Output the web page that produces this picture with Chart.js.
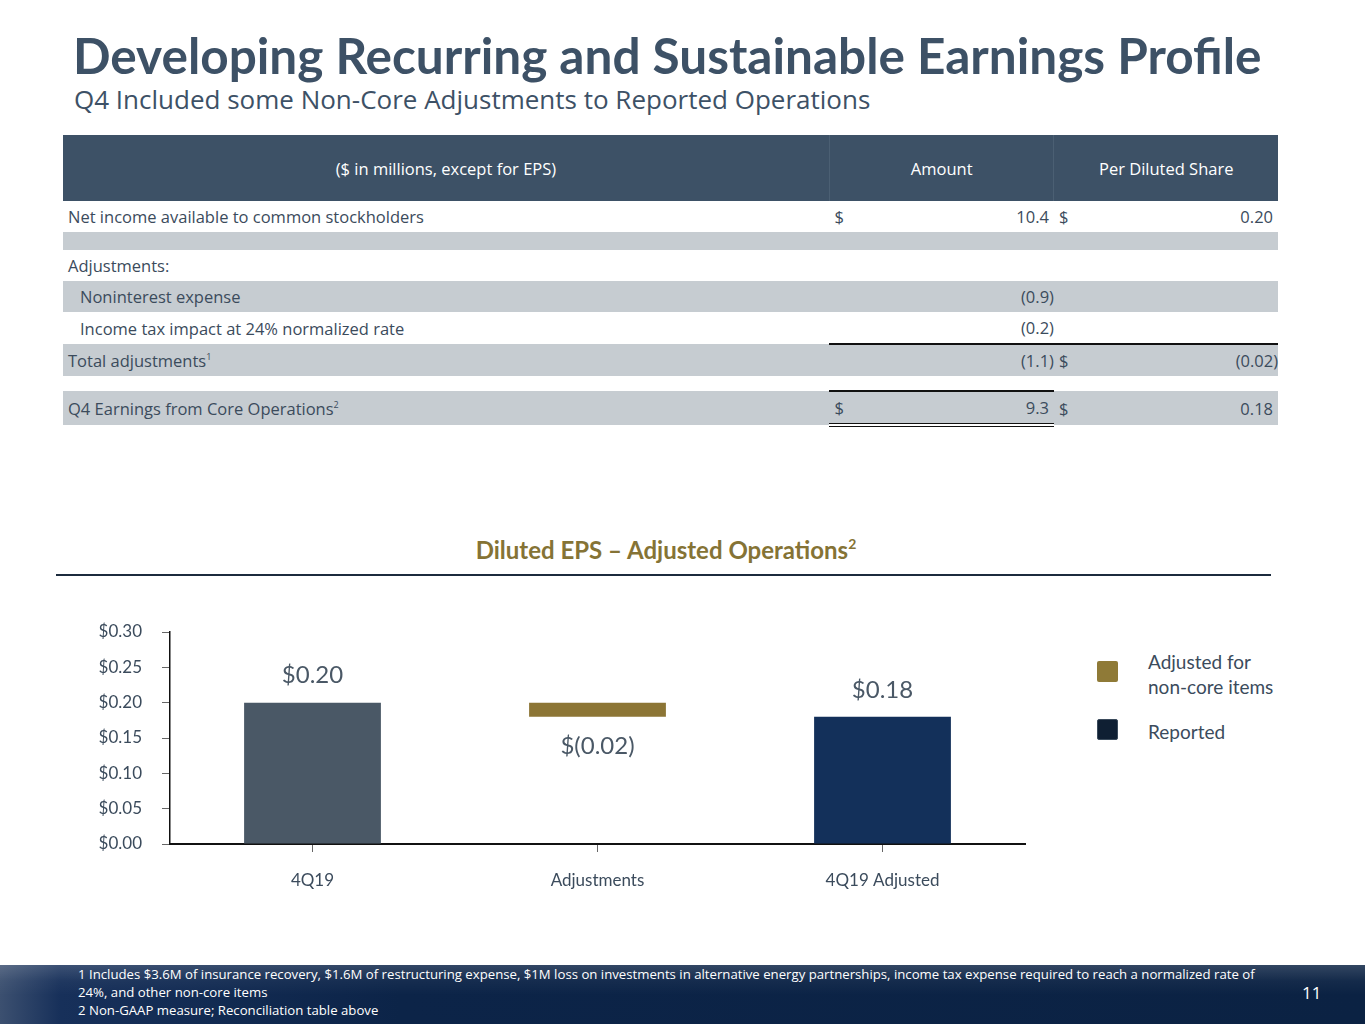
<!DOCTYPE html>
<html>
<head>
<meta charset="utf-8">
<script src="https://cdn.jsdelivr.net/npm/chart.js@4"></script>
<style>
  body { margin: 0; width: 1365px; height: 1024px; position: relative; background: #fff; font-family: 'Open Sans', Lato, sans-serif; color: #3b4b5c; overflow: hidden; }
  .title { position: absolute; left: 73px; top: 25px; font-family: Lato, sans-serif; font-size: 49.5px; font-weight: 700; color: #3d5166; white-space: nowrap; }
  .subtitle { position: absolute; left: 74px; top: 81px; font-size: 26px; color: #3d5166; white-space: nowrap; }
  table { position: absolute; left: 63px; top: 135px; width: 1215px; border-collapse: collapse; font-size: 16.5px; color: #3b4b5c; }
  th { background: #3d5166; color: #fff; font-weight: 400; height: 66px; padding: 0; }
  th + th { border-left: 1px solid #4b5f73; }
  td { padding: 0 5px; height: 31px; white-space: nowrap; }
  tr.g td { background: #c6ccd1; }
  tr.sp td { height: 18px; }
  tr.sp2 td { height: 14px; }
  .num { text-align: right; }
  .ind { padding-left: 17px; }
  .dl { position: relative; }
  .dl span { position: absolute; left: 5px; }
  .tb { border-top: 2px solid #111; }
  .db { border-bottom: 4px double #111; }
  sup { font-size: 9px; vertical-align: 7px; }
  .ctitle { position: absolute; left: 0; width: 1332px; top: 535px; text-align: center; font-family: Lato, sans-serif; font-size: 24px; font-weight: 700; color: #857335; }
  .ctitle sup { font-size: 14px; vertical-align: 10px; }
  .rule { position: absolute; left: 56px; top: 574px; width: 1215px; height: 2px; background: #1c2b3d; }
  #wrap { position: absolute; left: 60px; top: 600px; width: 980px; height: 310px; }
  .legend { position: absolute; left: 1097px; top: 649px; font-family: Lato, sans-serif; font-size: 19px; color: #3b4b5c; }
  .legend .item { position: relative; padding-left: 51px; line-height: 25px; margin-bottom: 20px; }
  .legend .sw { position: absolute; left: 0; top: 12px; width: 21px; height: 21px; border-radius: 2px; }
  .footer { position: absolute; left: 0; top: 965px; width: 1365px; height: 59px;
    background: linear-gradient(180deg, rgba(255,255,255,0.16) 0px, rgba(255,255,255,0.04) 16px, rgba(255,255,255,0) 30px),
                linear-gradient(90deg, #3c5070 0px, #17305a 60px, #0c2448 400px, #0b2243 1365px); }
  .fnotes { position: absolute; left: 78px; top: 0px; font-size: 13.2px; line-height: 18px; color: #fff; white-space: nowrap; }
  .page { position: absolute; left: 1302px; top: 16px; font-size: 17px; color: #fff; }
</style>
</head>
<body>
<div class="title">Developing Recurring and Sustainable Earnings Profile</div>
<div class="subtitle">Q4 Included some Non-Core Adjustments to Reported Operations</div>

<table>
  <tr><th style="width:767px">($ in millions, except for EPS)</th><th style="width:224px">Amount</th><th style="width:224px">Per Diluted Share</th></tr>
  <tr><td>Net income available to common stockholders</td><td class="num dl"><span>$</span>10.4</td><td class="num dl"><span>$</span>0.20</td></tr>
  <tr class="g sp"><td></td><td></td><td></td></tr>
  <tr><td>Adjustments:</td><td></td><td></td></tr>
  <tr class="g"><td class="ind">Noninterest expense</td><td class="num" style="padding-right:0">(0.9)</td><td></td></tr>
  <tr><td class="ind">Income tax impact at 24% normalized rate</td><td class="num" style="padding-right:0">(0.2)</td><td></td></tr>
  <tr class="g"><td>Total adjustments<sup>1</sup></td><td class="num tb" style="padding-right:0">(1.1)</td><td class="num dl tb" style="padding-right:0"><span>$</span>(0.02)</td></tr>
  <tr class="sp2"><td></td><td></td><td></td></tr>
  <tr class="g"><td>Q4 Earnings from Core Operations<sup>2</sup></td><td class="num dl tb db"><span>$</span>9.3</td><td class="num dl"><span>$</span>0.18</td></tr>
</table>

<div class="ctitle">Diluted EPS – Adjusted Operations<sup>2</sup></div>
<div class="rule"></div>

<div id="wrap"><canvas id="c"></canvas></div>

<div class="legend">
  <div class="item"><span class="sw" style="background:#8f7a37"></span>Adjusted for<br>non-core items</div>
  <div class="item"><span class="sw" style="background:#0f1f33; top:0; border:1px solid #3b4b5c; width:19px; height:19px"></span>Reported</div>
</div>

<div class="footer">
  <div class="fnotes">1 Includes $3.6M of insurance recovery, $1.6M of restructuring expense, $1M loss on investments in alternative energy partnerships, income tax expense required to reach a normalized rate of<br>24%, and other non-core items<br>2 Non-GAAP measure; Reconciliation table above</div>
  <div class="page">11</div>
</div>

<script>
// chart data
const categories = ['4Q19', 'Adjustments', '4Q19 Adjusted'];
const barStart = [0, 0.18, 0];
const barEnd = [0.20, 0.20, 0.18];
const valueLabels = ['$0.20', '$(0.02)', '$0.18'];
const barColors = ['#4a5866', '#8c7535', '#13305a'];
const yTicks = [0, 0.05, 0.10, 0.15, 0.20, 0.25, 0.30];

const fontFamily = "Lato, 'Open Sans', sans-serif";
const textColor = '#3b4b5c';

// Draw value labels above / below the bars
const valueLabelPlugin = {
  id: 'valueLabels',
  afterDatasetsDraw(chart) {
    const { ctx } = chart;
    const meta = chart.getDatasetMeta(0);
    ctx.save();
    ctx.font = `24px ${fontFamily}`;
    ctx.fillStyle = '#4a5866';
    ctx.textAlign = 'center';
    ctx.textBaseline = 'middle';
    meta.data.forEach((bar, i) => {
      const below = barStart[i] > 0; // floating adjustment bar gets its label underneath
      const top = Math.min(bar.y, bar.base);
      const bottom = Math.max(bar.y, bar.base);
      const y = below ? bottom + 29 : top - 27;
      ctx.fillText(valueLabels[i], bar.x, y);
    });
    ctx.restore();
  }
};

new Chart(document.getElementById('c'), {
  type: 'bar',
  data: {
    labels: categories,
    datasets: [{
      data: categories.map((_, i) => [barStart[i], barEnd[i]]),
      backgroundColor: barColors,
      borderSkipped: false,
      barPercentage: 0.48,
      categoryPercentage: 1,
    }]
  },
  options: {
    responsive: true,
    maintainAspectRatio: false,
    animation: false,
    layout: { padding: { top: 32, right: 15, left: 0, bottom: 0 } },
    plugins: {
      legend: { display: false },
      tooltip: { enabled: false },
    },
    scales: {
      x: {
        grid: { drawOnChartArea: false, drawTicks: true, tickLength: 8, color: '#666', offset: false },
        border: { color: '#111', width: 2 },
        ticks: { color: textColor, font: { size: 17, family: fontFamily }, padding: 18 },
        afterFit(scale) { scale.height = 66; },
      },
      y: {
        min: 0,
        max: 0.30,
        afterBuildTicks(scale) { scale.ticks = yTicks.map(v => ({ value: v })); },
        grid: { drawOnChartArea: false, drawTicks: true, tickLength: 8, color: '#666' },
        border: { color: '#111', width: 1.5 },
        ticks: {
          color: textColor,
          font: { size: 17, family: fontFamily },
          padding: 20,
          callback: v => '$' + Number(v).toFixed(2),
        },
        afterFit(scale) { scale.width = 110; },
      }
    }
  },
  plugins: [valueLabelPlugin]
});
</script>
</body>
</html>
